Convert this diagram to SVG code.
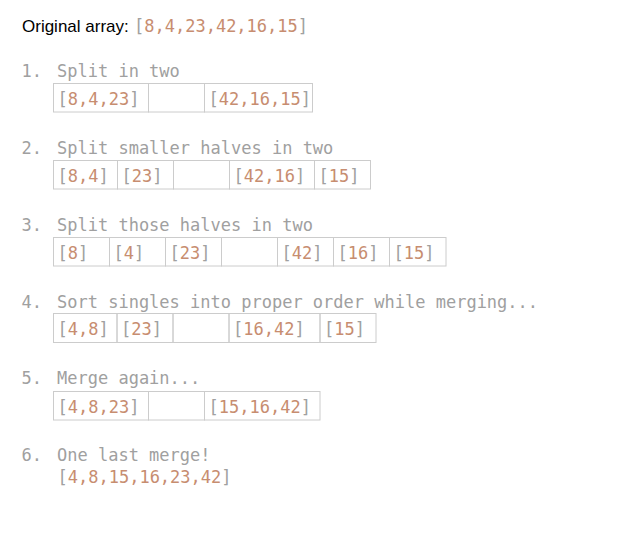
<svg xmlns="http://www.w3.org/2000/svg" width="628" height="535" viewBox="0 0 628 535">
<style>
.bg{fill:#ffffff}
.m{font-family:"DejaVu Sans Mono","Liberation Mono",monospace;font-size:17px;fill:#a0a0a0}
.n{fill:#c78d70}
.b{fill:#a0a0a0}
.s{font-family:"Liberation Sans",Arial,sans-serif;font-size:17px;fill:#000000}
.c{fill:none;stroke:#cccccc;stroke-width:1}
</style>
<rect class="bg" x="0" y="0" width="628" height="535"/>
<g id="original">
<text class="s" x="22" y="32">Original array:</text>
<text class="m" x="134" y="32"><tspan class="b">[</tspan><tspan class="n">8,4,23,42,16,15</tspan><tspan class="b">]</tspan></text>
</g>
<g id="step1">
<text class="m" x="21.5" y="77">1.</text>
<text class="m" x="57" y="77">Split in two</text>
<rect class="c" x="53.5" y="83.5" width="95" height="28.5"/>
<rect class="c" x="148.5" y="83.5" width="56" height="28.5"/>
<rect class="c" x="204.5" y="83.5" width="108" height="28.5"/>
<text class="m" x="57.5" y="105"><tspan class="b">[</tspan><tspan class="n">8,4,23</tspan><tspan class="b">]</tspan></text>
<text class="m" x="208.5" y="105"><tspan class="b">[</tspan><tspan class="n">42,16,15</tspan><tspan class="b">]</tspan></text>
</g>
<g id="step2">
<text class="m" x="21.5" y="153.5">2.</text>
<text class="m" x="57" y="153.5">Split smaller halves in two</text>
<rect class="c" x="53.5" y="160.5" width="64" height="28.5"/>
<rect class="c" x="117.5" y="160.5" width="56" height="28.5"/>
<rect class="c" x="173.5" y="160.5" width="56" height="28.5"/>
<rect class="c" x="229.5" y="160.5" width="85" height="28.5"/>
<rect class="c" x="314.5" y="160.5" width="56" height="28.5"/>
<text class="m" x="57.5" y="182"><tspan class="b">[</tspan><tspan class="n">8,4</tspan><tspan class="b">]</tspan></text>
<text class="m" x="121.5" y="182"><tspan class="b">[</tspan><tspan class="n">23</tspan><tspan class="b">]</tspan></text>
<text class="m" x="233.5" y="182"><tspan class="b">[</tspan><tspan class="n">42,16</tspan><tspan class="b">]</tspan></text>
<text class="m" x="318.5" y="182"><tspan class="b">[</tspan><tspan class="n">15</tspan><tspan class="b">]</tspan></text>
</g>
<g id="step3">
<text class="m" x="21.5" y="230.5">3.</text>
<text class="m" x="57" y="230.5">Split those halves in two</text>
<rect class="c" x="53.5" y="237.5" width="56" height="28.5"/>
<rect class="c" x="109.5" y="237.5" width="56" height="28.5"/>
<rect class="c" x="165.5" y="237.5" width="56" height="28.5"/>
<rect class="c" x="221.5" y="237.5" width="56" height="28.5"/>
<rect class="c" x="277.5" y="237.5" width="56" height="28.5"/>
<rect class="c" x="333.5" y="237.5" width="56" height="28.5"/>
<rect class="c" x="389.5" y="237.5" width="56.5" height="28.5"/>
<text class="m" x="57.5" y="259"><tspan class="b">[</tspan><tspan class="n">8</tspan><tspan class="b">]</tspan></text>
<text class="m" x="113.5" y="259"><tspan class="b">[</tspan><tspan class="n">4</tspan><tspan class="b">]</tspan></text>
<text class="m" x="169.5" y="259"><tspan class="b">[</tspan><tspan class="n">23</tspan><tspan class="b">]</tspan></text>
<text class="m" x="281.5" y="259"><tspan class="b">[</tspan><tspan class="n">42</tspan><tspan class="b">]</tspan></text>
<text class="m" x="337.5" y="259"><tspan class="b">[</tspan><tspan class="n">16</tspan><tspan class="b">]</tspan></text>
<text class="m" x="393.5" y="259"><tspan class="b">[</tspan><tspan class="n">15</tspan><tspan class="b">]</tspan></text>
</g>
<g id="step4">
<text class="m" x="21.5" y="307.5">4.</text>
<text class="m" x="57" y="307.5">Sort singles into proper order while merging...</text>
<rect class="c" x="53.5" y="313.5" width="63.5" height="29"/>
<rect class="c" x="117" y="313.5" width="56" height="29"/>
<rect class="c" x="173" y="313.5" width="56" height="29"/>
<rect class="c" x="229" y="313.5" width="91" height="29"/>
<rect class="c" x="320" y="313.5" width="56" height="29"/>
<text class="m" x="57.5" y="335"><tspan class="b">[</tspan><tspan class="n">4,8</tspan><tspan class="b">]</tspan></text>
<text class="m" x="121" y="335"><tspan class="b">[</tspan><tspan class="n">23</tspan><tspan class="b">]</tspan></text>
<text class="m" x="233" y="335"><tspan class="b">[</tspan><tspan class="n">16,42</tspan><tspan class="b">]</tspan></text>
<text class="m" x="324" y="335"><tspan class="b">[</tspan><tspan class="n">15</tspan><tspan class="b">]</tspan></text>
</g>
<g id="step5">
<text class="m" x="21.5" y="384">5.</text>
<text class="m" x="57" y="384">Merge again...</text>
<rect class="c" x="53.5" y="391.5" width="95" height="28.5"/>
<rect class="c" x="148.5" y="391.5" width="56" height="28.5"/>
<rect class="c" x="204.5" y="391.5" width="115.5" height="28.5"/>
<text class="m" x="57.5" y="413"><tspan class="b">[</tspan><tspan class="n">4,8,23</tspan><tspan class="b">]</tspan></text>
<text class="m" x="208.5" y="413"><tspan class="b">[</tspan><tspan class="n">15,16,42</tspan><tspan class="b">]</tspan></text>
</g>
<g id="step6">
<text class="m" x="21.5" y="461">6.</text>
<text class="m" x="57" y="461">One last merge!</text>
<text class="m" x="57.5" y="483"><tspan class="b">[</tspan><tspan class="n">4,8,15,16,23,42</tspan><tspan class="b">]</tspan></text>
</g>
<g id="connectors"/>
</svg>
